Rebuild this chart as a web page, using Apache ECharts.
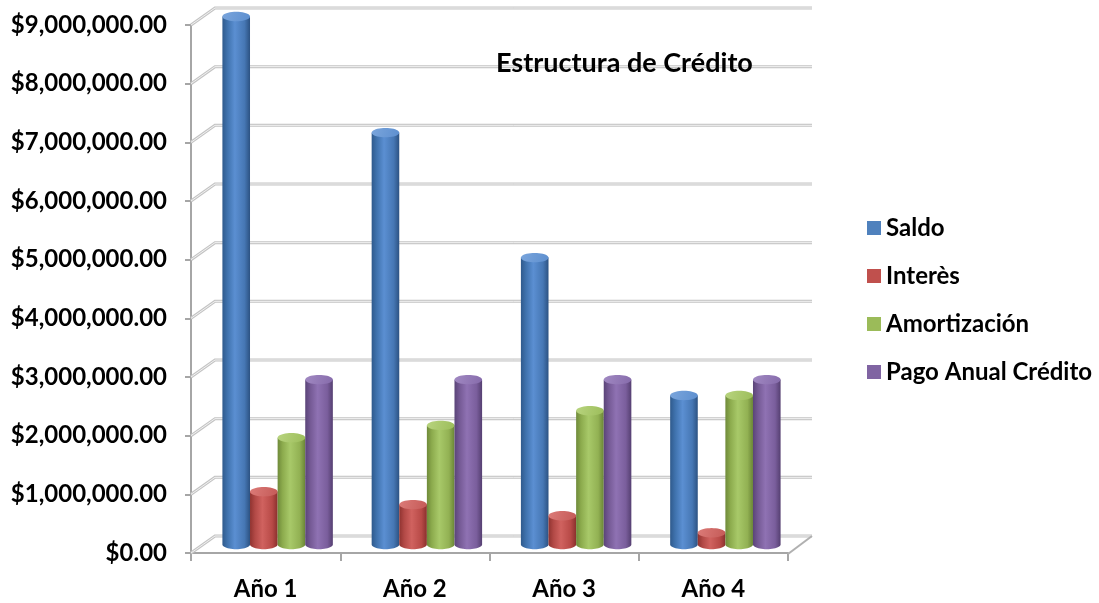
<!DOCTYPE html>
<html>
  <head>
    <meta charset="utf-8" />
    <title>Estructura de Crédito</title>
  </head>
  <body style="margin:0;background:#fff;">
    <script src="https://cdn.jsdelivr.net/npm/echarts@6/dist/echarts.min.js"></script>
    <div id="container" style="width:1099px;height:603px;"></div>
    <script type="text/javascript">
    // datos
    var categorias = ['Año 1', 'Año 2', 'Año 3', 'Año 4'];
    var saldo = [9000000, 7020000, 4890000, 2540000];
    var interes = [900000, 680000, 490000, 200000];
    var amortizacion = [1820000, 2030000, 2280000, 2540000];
    var pagoAnual = [2810000, 2810000, 2810000, 2810000];
    var ticksY = [0, 1000000, 2000000, 3000000, 4000000, 5000000, 6000000, 7000000, 8000000, 9000000];

    // desplazamiento de la pared del fondo (efecto 3D)
    var DX = 24, DY = 17;
    var FONT = 'Lato';

    var colores = [
      { base: '#4F81BD', body: ['#2f5a8c', '#3f72ad', '#5b8fd2', '#4677b4', '#2c5282'], top: ['#5d8fcf', '#7aa5dc'] },
      { base: '#C0504D', body: ['#8f3330', '#b24946', '#d0625f', '#b84a47', '#8a302d'], top: ['#c45a57', '#dc7b78'] },
      { base: '#9BBB59', body: ['#6f8a3a', '#8cab4d', '#a8c969', '#92b153', '#6a8536'], top: ['#9cbd5a', '#b8d47f'] },
      { base: '#8064A2', body: ['#5a4478', '#745994', '#8f72b3', '#7a5e9c', '#553f71'], top: ['#866bab', '#a189c2'] }
    ];

    function grad(c) {
      return new echarts.graphic.LinearGradient(0, 0, 1, 0, [
        { offset: 0, color: c[0] }, { offset: 0.18, color: c[1] },
        { offset: 0.45, color: c[2] }, { offset: 0.8, color: c[3] }, { offset: 1, color: c[4] }
      ]);
    }

    function ellipse(cx, cy, rx, ry, a0, a1, n) {
      var pts = [];
      for (var i = 0; i <= n; i++) {
        var a = a0 + (a1 - a0) * i / n;
        pts.push([cx + rx * Math.cos(a), cy + ry * Math.sin(a)]);
      }
      return pts;
    }

    function cilindro(k) {
      var c = colores[k];
      return function (params, api) {
        var idx = api.value(0);
        var top = api.coord([idx, api.value(1)]);
        var base = api.coord([idx, 0]);
        var cw = api.size([1, 0])[0];
        var w = cw * 0.185;
        var cx = top[0] + DX / 2 + (k - 1.5) * w;
        var yT = top[1] - DY / 2, yB = base[1] - DY / 2;
        var rx = w / 2, ry = w * 0.17;
        var body = [[cx - rx, yT]].concat(ellipse(cx, yB, rx, ry, Math.PI, 0, 24)).concat([[cx + rx, yT]]);
        return {
          type: 'group',
          children: [
            { type: 'polygon', shape: { points: body }, style: { fill: grad(c.body), stroke: null } },
            { type: 'polygon', shape: { points: ellipse(cx, yT, rx, ry, 0, Math.PI * 2, 40) },
              style: { fill: new echarts.graphic.LinearGradient(0, 0, 1, 1, [
                { offset: 0, color: c.top[1] }, { offset: 1, color: c.top[0] }]), stroke: null } }
          ]
        };
      };
    }

    var nombres = ['Saldo', 'Interès', 'Amortización', 'Pago Anual Crédito'];
    var valores = [saldo, interes, amortizacion, pagoAnual];

    var series = [];
    // pared del fondo con líneas de división
    series.push({
      type: 'custom',
      z: 1,
      silent: true,
      encode: { x: 0, y: 1 },
      data: ticksY.map(function (v) { return [0, v]; }),
      renderItem: function (params, api) {
        var p0 = api.coord([0, api.value(1)]);
        var half = api.size([1, 0])[0] / 2;
        var left = p0[0] - half;
        var right = api.coord([categorias.length - 1, api.value(1)])[0] + half;
        var y = p0[1];
        var pts = [[left, y], [left + DX, y - DY], [right + DX, y - DY]];
        return {
          type: 'group',
          children: [
            { type: 'polyline', shape: { points: pts }, style: { stroke: '#c4c4c4', lineWidth: 3, fill: null } },
            { type: 'polyline', shape: { points: pts }, style: { stroke: '#f2f2f2', lineWidth: 1, fill: null } }
          ]
        };
      }
    });
    // suelo
    series.push({
      type: 'custom',
      z: 1,
      silent: true,
      encode: { x: 0, y: 1 },
      data: [[0, 0]],
      renderItem: function (params, api) {
        var half = api.size([1, 0])[0] / 2;
        var p = api.coord([categorias.length - 1, 0]);
        var right = p[0] + half;
        var y = p[1];
        return {
          type: 'polyline',
          shape: { points: [[right + DX, y - DY], [right, y + 1]] },
          style: { stroke: '#b0b0b0', lineWidth: 2, fill: null }
        };
      }
    });
    for (var k = 0; k < 4; k++) {
      series.push({
        name: nombres[k],
        type: 'custom',
        z: 3,
        itemStyle: { color: colores[k].base },
        encode: { x: 0, y: 1 },
        data: valores[k].map(function (v, i) { return [i, v]; }),
        renderItem: cilindro(k)
      });
    }

    var myChart = echarts.init(document.getElementById('container'));
    var option = {
      backgroundColor: '#fff',
      animation: false,
      title: {
        text: 'Estructura de Crédito',
        left: 491,
        top: 45,
        textStyle: { fontFamily: FONT, fontWeight: 'bold', fontSize: 27, color: '#000' }
      },
      legend: {
        orient: 'vertical',
        left: 862,
        top: 211,
        itemWidth: 14,
        itemHeight: 14,
        itemGap: 24,
        icon: 'rect',
        data: nombres,
        textStyle: { fontFamily: FONT, fontWeight: 'bold', fontSize: 24, color: '#000', lineHeight: 24 }
      },
      grid: { left: 191, right: 311, top: 25, bottom: 50 },
      xAxis: {
        type: 'category',
        data: categorias,
        axisLine: { lineStyle: { color: '#a6a6a6', width: 2 } },
        axisTick: { show: true, length: 8, lineStyle: { color: '#a6a6a6', width: 2 } },
        axisLabel: { margin: 24, fontFamily: FONT, fontWeight: 'bold', fontSize: 24, color: '#000' },
        splitLine: { show: false }
      },
      yAxis: {
        type: 'value',
        min: 0,
        max: 9000000,
        interval: 1000000,
        axisLine: { show: true, lineStyle: { color: '#a6a6a6', width: 2 } },
        axisTick: { show: true, length: 6, lineStyle: { color: '#a6a6a6', width: 2 } },
        splitLine: { show: false },
        axisLabel: {
          margin: 24,
          fontFamily: FONT, fontWeight: 'bold', fontSize: 24, color: '#000',
          formatter: function (v) {
            return '$' + v.toLocaleString('en-US', { minimumFractionDigits: 2, maximumFractionDigits: 2 });
          }
        }
      },
      series: series
    };
    myChart.setOption(option);
    window.addEventListener('resize', myChart.resize);
    </script>
  </body>
</html>
